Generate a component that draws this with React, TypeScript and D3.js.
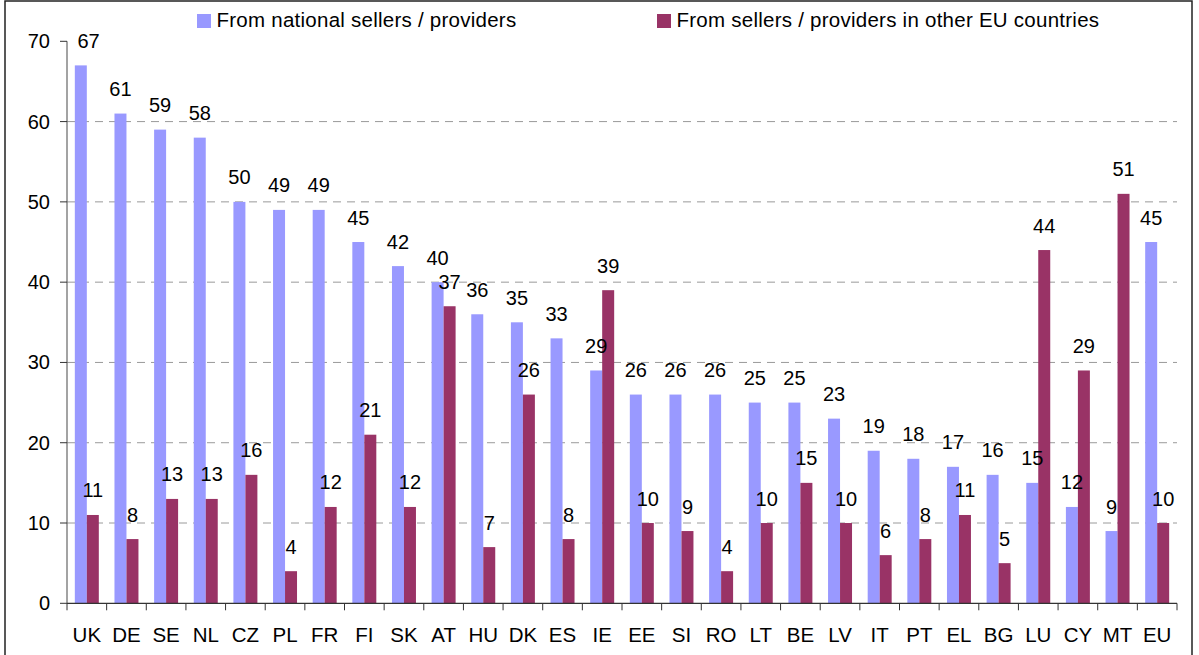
import React from 'react';
import * as d3 from 'd3';

const countries = ['UK', 'DE', 'SE', 'NL', 'CZ', 'PL', 'FR', 'FI', 'SK', 'AT', 'HU', 'DK', 'ES', 'IE', 'EE', 'SI', 'RO', 'LT', 'BE', 'LV', 'IT', 'PT', 'EL', 'BG', 'LU', 'CY', 'MT', 'EU'];
const national = [67, 61, 59, 58, 50, 49, 49, 45, 42, 40, 36, 35, 33, 29, 26, 26, 26, 25, 25, 23, 19, 18, 17, 16, 15, 12, 9, 45];
const otherEU = [11, 8, 13, 13, 16, 4, 12, 21, 12, 37, 7, 26, 8, 39, 10, 9, 4, 10, 15, 10, 6, 8, 11, 5, 44, 29, 51, 10];
const seriesNames = ['From national sellers / providers', 'From sellers / providers in other EU countries'];
const yTicks = [0, 10, 20, 30, 40, 50, 60, 70];

const width = 1199;
const height = 655;
const marginLeft = 67;
const marginRight = 22;
const plotTop = 41.3;
const plotBottom = 603.3;
const colors = ['#9999FF', '#993366'];
const font = '"Liberation Sans", Arial, sans-serif';

const App = () => {
    const x = d3.scaleBand<string>()
        .domain(countries)
        .range([marginLeft, width - marginRight])
        .paddingInner(0.395)
        .paddingOuter(0.1975);

    const xSub = d3.scaleBand<number>()
        .domain([0, 1])
        .range([0, x.bandwidth()]);

    const y = d3.scaleLinear()
        .domain([0, 70])
        .range([plotBottom, plotTop]);

    const series = [national, otherEU];
    const step = x.step();

    return (
        <svg width={width} height={height} style={{ position: 'absolute', left: 0, top: 0, background: '#fff' }} fontFamily={font}>
            <rect x={5} y={1} width={1187} height={670} fill="#fff" stroke="#222" strokeWidth={1.5} />

            {/* gridlines */}
            {yTicks.filter(t => t > 0 && t < 70).map(t => (
                <line key={'g' + t} x1={marginLeft} x2={width - marginRight} y1={y(t)} y2={y(t)}
                    stroke="#9a9a9a" strokeWidth={1} strokeDasharray="8,6" />
            ))}

            {/* bars */}
            {series.map((vals, si) => (
                <g key={'s' + si} fill={colors[si]}>
                    {vals.map((v, i) => (
                        <rect key={i}
                            x={(x(countries[i]) ?? 0) + (xSub(si) ?? 0)}
                            y={y(v)}
                            width={xSub.bandwidth()}
                            height={y(0) - y(v)} />
                    ))}
                </g>
            ))}

            {/* value labels */}
            {series.map((vals, si) => (
                <g key={'l' + si} fontSize={20} fill="#000" textAnchor="middle">
                    {vals.map((v, i) => {
                        let cx = (x(countries[i]) ?? 0) + (xSub(si) ?? 0) + xSub.bandwidth() / 2;
                        cx = Math.max(cx, marginLeft + 10 + 11.5);
                        return <text key={i} x={cx} y={y(v) - 17.5}>{v}</text>;
                    })}
                </g>
            ))}

            {/* y axis */}
            <line x1={marginLeft} x2={marginLeft} y1={plotTop} y2={plotBottom} stroke="#666" strokeWidth={1.2} />
            {yTicks.map(t => (
                <g key={'y' + t}>
                    <line x1={marginLeft - 7} x2={marginLeft} y1={y(t)} y2={y(t)} stroke="#333" />
                    <text x={50} y={y(t)} dy="0.35em" textAnchor="end" fontSize={20} fill="#000">{t}</text>
                </g>
            ))}

            {/* x axis */}
            <line x1={marginLeft} x2={width - marginRight} y1={plotBottom} y2={plotBottom} stroke="#333" strokeWidth={1.2} />
            {d3.range(countries.length + 1).map(i => (
                <line key={'xt' + i} x1={marginLeft + i * step} x2={marginLeft + i * step}
                    y1={plotBottom} y2={plotBottom + 7} stroke="#333" />
            ))}
            {countries.map(c => (
                <text key={'xl' + c} x={(x(c) ?? 0) + x.bandwidth() / 2} y={642} textAnchor="middle" fontSize={20.5} fill="#000">{c}</text>
            ))}

            {/* legend */}
            {seriesNames.map((name, si) => {
                const lx = si === 0 ? 197 : 657;
                return (
                    <g key={'lg' + si}>
                        <rect x={lx} y={14} width={14} height={14} fill={colors[si]} />
                        <text x={lx + 19.5} y={26.5} fontSize={20.5} letterSpacing={0.25} fill="#000">{name}</text>
                    </g>
                );
            })}
        </svg>
    );
};

export default App;
